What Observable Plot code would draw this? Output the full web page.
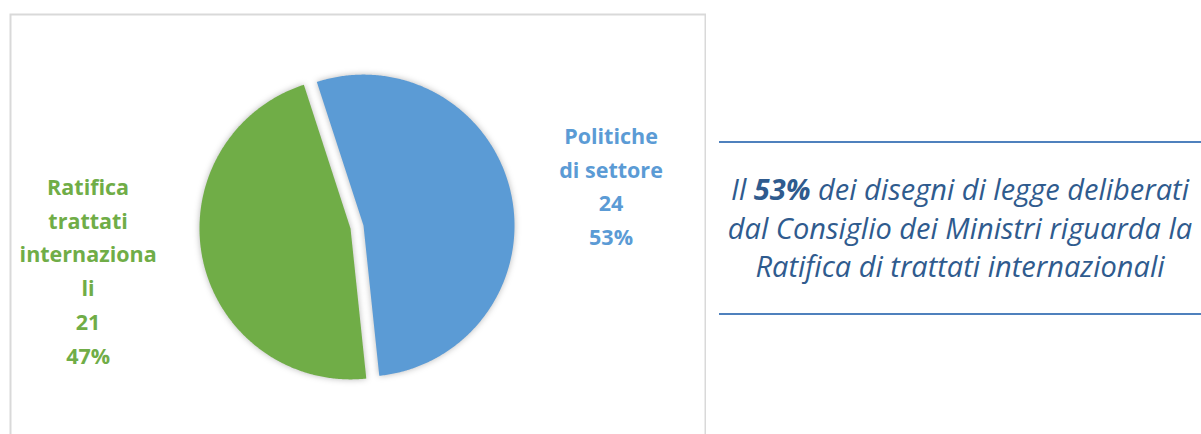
<!DOCTYPE html>
<html>
<head>
<meta charset="utf-8">
<script src="https://cdn.jsdelivr.net/npm/d3@7"></script>
<script src="https://cdn.jsdelivr.net/npm/@observablehq/plot@0.6"></script>
<style>
  html, body { margin: 0; padding: 0; background: #fff; overflow: hidden; width: 1201px; height: 434px; }
  #chart { position: absolute; left: 9px; top: 13px; }
  #note {
    position: absolute; left: 719px; top: 141px; width: 482px; height: 170px;
    border-top: 2px solid #4f81bd; border-bottom: 2px solid #4f81bd;
    display: flex; align-items: center; justify-content: center; text-align: center;
    font-family: "Open Sans", sans-serif; font-style: italic; font-size: 29px; line-height: 38.5px;
    color: #2f5b8e; white-space: nowrap;
  }
</style>
</head>
<body>
<div id="chart"></div>
<div id="note"><div>Il <b>53%</b> dei disegni di legge deliberati<br>dal Consiglio dei Ministri riguarda la<br>Ratifica di trattati internazionali</div></div>
<script>
// ---- data ----
const categories = ["Politiche di settore", "Ratifica trattati internazionali"];
const values = [24, 21];
const percents = ["53%", "47%"];
const labelLines = [
  ["Politiche", "di settore"],
  ["Ratifica", "trattati", "internaziona", "li"]
];
const colors = ["#5b9bd5", "#70ad47"];

// ---- layout ----
const W = 697, H = 440;
const cx = 347.5, cy = 213.5, R = 151;   // pie center/radius (px)
const startAngle = -18 * Math.PI / 180;  // first slice starts here (clockwise from north)
const explode = 0.044;                   // explosion, in radius units
const labelPos = [{r: 1.72, dx: 0.0, dy: 0.07}, {r: 1.80, dx: -0.02, dy: -0.10}];

const table = categories.map((c, i) => ({name: c, value: values[i], pct: percents[i], color: colors[i], i}));
const arcs = d3.pie().sort(null).value(d => d.value)
  .startAngle(startAngle).endAngle(startAngle + 2 * Math.PI)(table);

const pts = [];
const labels = [];
arcs.forEach(a => {
  const mid = (a.startAngle + a.endAngle) / 2;
  const ox = explode * Math.sin(mid), oy = -explode * Math.cos(mid);
  pts.push({name: a.data.name, x: ox, y: oy});
  const n = Math.ceil((a.endAngle - a.startAngle) / (Math.PI / 360));
  for (let k = 0; k <= n; k++) {
    const t = a.startAngle + (a.endAngle - a.startAngle) * k / n;
    pts.push({name: a.data.name, x: ox + Math.sin(t), y: oy - Math.cos(t)});
  }
  pts.push({name: a.data.name, x: ox, y: oy});
  const lp = labelPos[a.data.i];
  labels.push({
    x: lp.r * Math.sin(mid) + lp.dx,
    y: -lp.r * Math.cos(mid) + lp.dy,
    text: [...labelLines[a.data.i], String(a.data.value), a.data.pct].join("\n"),
    color: a.data.color
  });
});

const plot = Plot.plot({
  width: W, height: H,
  margin: 0, marginTop: 1, marginLeft: 1, marginRight: 1, marginBottom: 0,
  x: {domain: [-(cx - 1) / R, (W - 1 - cx) / R], range: [1, W - 1], axis: null},
  y: {domain: [-(cy - 1) / R, (H - cy) / R], range: [1, H], axis: null},
  marks: [
    Plot.frame({stroke: "#d9d9d9", strokeWidth: 2}),
    Plot.line(pts, {x: "x", y: "y", z: "name", fill: d => colors[categories.indexOf(d.name)], stroke: "none", curve: "linear"}),
    Plot.text(labels, {x: "x", y: "y", text: "text", fill: d => d.color, fontSize: 21.5, fontWeight: "bold",
      fontFamily: "Open Sans, sans-serif", lineHeight: 1.57, textAnchor: "middle"})
  ]
});
d3.select(plot).selectAll("path").filter(function() { return this.getAttribute("fill") && this.getAttribute("fill") !== "none"; })
  .style("filter", "drop-shadow(0px 0px 3px rgba(0,0,0,0.28))");
document.getElementById("chart").appendChild(plot);
</script>
</body>
</html>
